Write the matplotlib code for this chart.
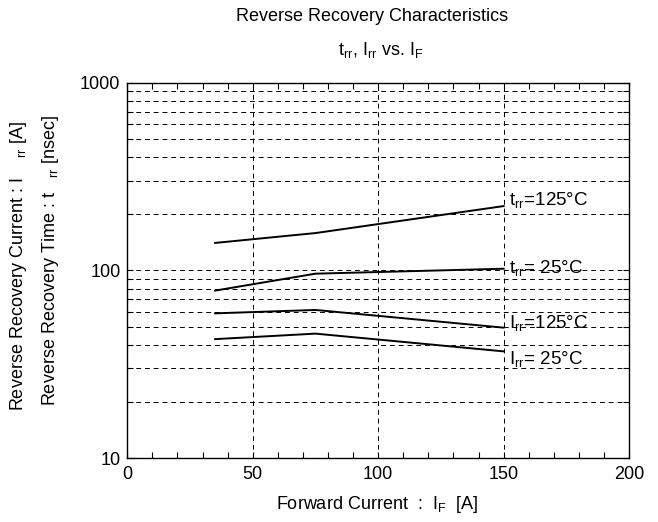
import numpy as np
import matplotlib
matplotlib.use('Agg')
import matplotlib.pyplot as plt
from matplotlib.ticker import FixedLocator, MultipleLocator, NullFormatter

plt.rcParams['font.family'] = ['Liberation Sans', 'DejaVu Sans']
plt.rcParams['mathtext.fontset'] = 'custom'
plt.rcParams['mathtext.rm'] = 'Liberation Sans'
plt.rcParams['mathtext.it'] = 'Liberation Sans'

# Datos
i_f = [35, 75, 150]
trr_125 = [140, 158, 220]
trr_25 = [78, 96, 102]
irr_125 = [59, 61.5, 49.5]
irr_25 = [43, 46, 37]

etiquetas = [r'$\mathregular{t_{rr}}$=125°C', r'$\mathregular{t_{rr}}$= 25°C',
             r'$\mathregular{I_{rr}}$=125°C', r'$\mathregular{I_{rr}}$= 25°C']
pos_etiq = [238, 103, 52.5, 33.5]

fig = plt.figure(figsize=(6.58, 5.22), dpi=100)
ax = fig.add_axes([0.1935, 0.1226, 0.7625, 0.719])

for serie in (trr_125, trr_25, irr_125, irr_25):
    ax.plot(i_f, serie, color='black', lw=1.4)

for txt, yv in zip(etiquetas, pos_etiq):
    ax.text(152, yv, txt, fontsize=13.5, va='center', ha='left')

ax.set_yscale('log')
ax.set_xlim(0, 200)
ax.set_ylim(10, 1000)
ax.xaxis.set_major_locator(MultipleLocator(50))
ax.xaxis.set_minor_locator(MultipleLocator(10))
ax.yaxis.set_major_locator(FixedLocator([10, 100, 1000]))
ax.yaxis.set_minor_locator(FixedLocator([k * 10 ** d for d in (1, 2) for k in range(2, 10)]))
ax.yaxis.set_minor_formatter(NullFormatter())
ax.set_yticklabels(['10', '100', '1000'])

ax.tick_params(which='both', direction='in', top=True, right=True, length=4, width=0.8)
ax.tick_params(axis='x', which='major', pad=6, labelsize=13)
ax.tick_params(axis='y', which='major', pad=5, labelsize=13)

ax.grid(axis='x', which='major', ls=(0, (5, 4)), color='black', lw=0.7)
ax.grid(axis='y', which='both', ls=(0, (5, 4)), color='black', lw=0.7)
for sp in ax.spines.values():
    sp.set_linewidth(1.0)

fig.text(0.565, 0.969, 'Reverse Recovery Characteristics', ha='center', va='center', fontsize=13)
fig.text(0.578, 0.905, r'$\mathregular{t_{rr}}$, $\mathregular{I_{rr}}$ vs. $\mathregular{I_F}$',
         ha='center', va='center', fontsize=13)
fig.text(0.573, 0.033, r'Forward Current  :  $\mathregular{I_F}$  [A]', ha='center', va='center', fontsize=13)

fig.text(0.028, 0.49, r'Reverse Recovery Current : I$\mathregular{\ \ \ \ _{rr}}$ [A]', rotation=90,
         ha='center', va='center', fontsize=13)
fig.text(0.077, 0.50, r'Reverse Recovery Time : t$\mathregular{\ \ \ _{rr}}$ [nsec]', rotation=90,
         ha='center', va='center', fontsize=13)

fig.savefig('out.png', dpi=100)
